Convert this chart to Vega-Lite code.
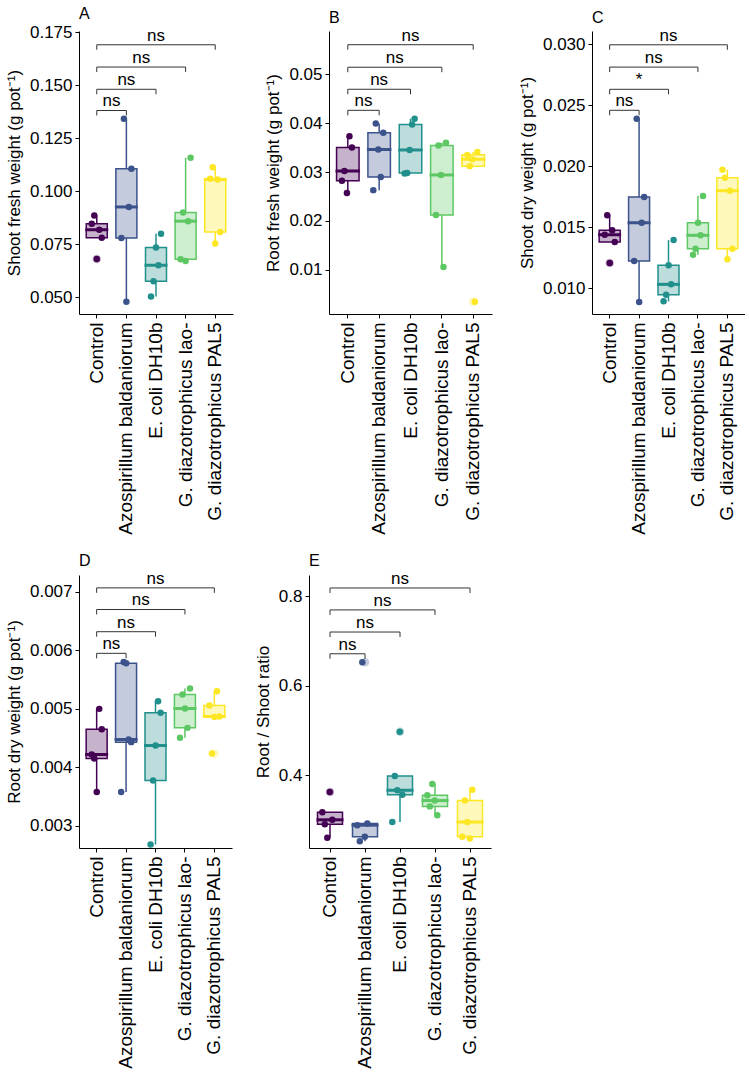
{
  "$schema": "https://vega.github.io/schema/vega-lite/v6.json",
  "padding": {"left": 5, "top": 6, "right": 0, "bottom": 0},
  "background": "white",
  "datasets": {
    "obs": [
      {"panel":"A","group":"Control","rep":1,"value":0.0846},
      {"panel":"A","group":"Control","rep":2,"value":0.0885},
      {"panel":"A","group":"Control","rep":3,"value":0.0679},
      {"panel":"A","group":"Control","rep":4,"value":0.0817},
      {"panel":"A","group":"Control","rep":5,"value":0.0780},
      {"panel":"A","group":"Azospirillum baldaniorum","rep":1,"value":0.0778},
      {"panel":"A","group":"Azospirillum baldaniorum","rep":2,"value":0.1341},
      {"panel":"A","group":"Azospirillum baldaniorum","rep":3,"value":0.0478},
      {"panel":"A","group":"Azospirillum baldaniorum","rep":4,"value":0.0925},
      {"panel":"A","group":"Azospirillum baldaniorum","rep":5,"value":0.1105},
      {"panel":"A","group":"E. coli DH10b","rep":1,"value":0.0503},
      {"panel":"A","group":"E. coli DH10b","rep":2,"value":0.0574},
      {"panel":"A","group":"E. coli DH10b","rep":3,"value":0.0734},
      {"panel":"A","group":"E. coli DH10b","rep":4,"value":0.0650},
      {"panel":"A","group":"E. coli DH10b","rep":5,"value":0.0799},
      {"panel":"A","group":"G. diazotrophicus lao-","rep":1,"value":0.0678},
      {"panel":"A","group":"G. diazotrophicus lao-","rep":2,"value":0.0899},
      {"panel":"A","group":"G. diazotrophicus lao-","rep":3,"value":0.0670},
      {"panel":"A","group":"G. diazotrophicus lao-","rep":4,"value":0.0858},
      {"panel":"A","group":"G. diazotrophicus lao-","rep":5,"value":0.1157},
      {"panel":"A","group":"G. diazotrophicus PAL5","rep":1,"value":0.1058},
      {"panel":"A","group":"G. diazotrophicus PAL5","rep":2,"value":0.1112},
      {"panel":"A","group":"G. diazotrophicus PAL5","rep":3,"value":0.0753},
      {"panel":"A","group":"G. diazotrophicus PAL5","rep":4,"value":0.1055},
      {"panel":"A","group":"G. diazotrophicus PAL5","rep":5,"value":0.0807},

      {"panel":"B","group":"Control","rep":1,"value":0.0282},
      {"panel":"B","group":"Control","rep":2,"value":0.0302},
      {"panel":"B","group":"Control","rep":3,"value":0.0257},
      {"panel":"B","group":"Control","rep":4,"value":0.0373},
      {"panel":"B","group":"Control","rep":5,"value":0.0350},
      {"panel":"B","group":"Azospirillum baldaniorum","rep":1,"value":0.0263},
      {"panel":"B","group":"Azospirillum baldaniorum","rep":2,"value":0.0399},
      {"panel":"B","group":"Azospirillum baldaniorum","rep":3,"value":0.0346},
      {"panel":"B","group":"Azospirillum baldaniorum","rep":4,"value":0.0290},
      {"panel":"B","group":"Azospirillum baldaniorum","rep":5,"value":0.0380},
      {"panel":"B","group":"E. coli DH10b","rep":1,"value":0.0297},
      {"panel":"B","group":"E. coli DH10b","rep":2,"value":0.0298},
      {"panel":"B","group":"E. coli DH10b","rep":3,"value":0.0345},
      {"panel":"B","group":"E. coli DH10b","rep":4,"value":0.0397},
      {"panel":"B","group":"E. coli DH10b","rep":5,"value":0.0409},
      {"panel":"B","group":"G. diazotrophicus lao-","rep":1,"value":0.0212},
      {"panel":"B","group":"G. diazotrophicus lao-","rep":2,"value":0.0354},
      {"panel":"B","group":"G. diazotrophicus lao-","rep":3,"value":0.0294},
      {"panel":"B","group":"G. diazotrophicus lao-","rep":4,"value":0.0106},
      {"panel":"B","group":"G. diazotrophicus lao-","rep":5,"value":0.0360},
      {"panel":"B","group":"G. diazotrophicus PAL5","rep":1,"value":0.0335},
      {"panel":"B","group":"G. diazotrophicus PAL5","rep":2,"value":0.0312},
      {"panel":"B","group":"G. diazotrophicus PAL5","rep":3,"value":0.0326},
      {"panel":"B","group":"G. diazotrophicus PAL5","rep":4,"value":0.0035},
      {"panel":"B","group":"G. diazotrophicus PAL5","rep":5,"value":0.0341},

      {"panel":"C","group":"Control","rep":1,"value":0.01437},
      {"panel":"C","group":"Control","rep":2,"value":0.01596},
      {"panel":"C","group":"Control","rep":3,"value":0.01205},
      {"panel":"C","group":"Control","rep":4,"value":0.01473},
      {"panel":"C","group":"Control","rep":5,"value":0.01377},
      {"panel":"C","group":"Azospirillum baldaniorum","rep":1,"value":0.01221},
      {"panel":"C","group":"Azospirillum baldaniorum","rep":2,"value":0.02388},
      {"panel":"C","group":"Azospirillum baldaniorum","rep":3,"value":0.00885},
      {"panel":"C","group":"Azospirillum baldaniorum","rep":4,"value":0.01535},
      {"panel":"C","group":"Azospirillum baldaniorum","rep":5,"value":0.01746},
      {"panel":"C","group":"E. coli DH10b","rep":1,"value":0.00891},
      {"panel":"C","group":"E. coli DH10b","rep":2,"value":0.00945},
      {"panel":"C","group":"E. coli DH10b","rep":3,"value":0.01186},
      {"panel":"C","group":"E. coli DH10b","rep":4,"value":0.01030},
      {"panel":"C","group":"E. coli DH10b","rep":5,"value":0.01393},
      {"panel":"C","group":"G. diazotrophicus lao-","rep":1,"value":0.01273},
      {"panel":"C","group":"G. diazotrophicus lao-","rep":2,"value":0.01322},
      {"panel":"C","group":"G. diazotrophicus lao-","rep":3,"value":0.01535},
      {"panel":"C","group":"G. diazotrophicus lao-","rep":4,"value":0.01432},
      {"panel":"C","group":"G. diazotrophicus lao-","rep":5,"value":0.01754},
      {"panel":"C","group":"G. diazotrophicus PAL5","rep":1,"value":0.01970},
      {"panel":"C","group":"G. diazotrophicus PAL5","rep":2,"value":0.01904},
      {"panel":"C","group":"G. diazotrophicus PAL5","rep":3,"value":0.01235},
      {"panel":"C","group":"G. diazotrophicus PAL5","rep":4,"value":0.01798},
      {"panel":"C","group":"G. diazotrophicus PAL5","rep":5,"value":0.01322},

      {"panel":"D","group":"Control","rep":1,"value":0.00422},
      {"panel":"D","group":"Control","rep":2,"value":0.00415},
      {"panel":"D","group":"Control","rep":3,"value":0.003576},
      {"panel":"D","group":"Control","rep":4,"value":0.00500},
      {"panel":"D","group":"Control","rep":5,"value":0.00465},
      {"panel":"D","group":"Azospirillum baldaniorum","rep":1,"value":0.003576},
      {"panel":"D","group":"Azospirillum baldaniorum","rep":2,"value":0.00580},
      {"panel":"D","group":"Azospirillum baldaniorum","rep":3,"value":0.00578},
      {"panel":"D","group":"Azospirillum baldaniorum","rep":4,"value":0.004476},
      {"panel":"D","group":"Azospirillum baldaniorum","rep":5,"value":0.004431},
      {"panel":"D","group":"E. coli DH10b","rep":1,"value":0.00268},
      {"panel":"D","group":"E. coli DH10b","rep":2,"value":0.003775},
      {"panel":"D","group":"E. coli DH10b","rep":3,"value":0.004373},
      {"panel":"D","group":"E. coli DH10b","rep":4,"value":0.005132},
      {"panel":"D","group":"E. coli DH10b","rep":5,"value":0.004932},
      {"panel":"D","group":"G. diazotrophicus lao-","rep":1,"value":0.004504},
      {"panel":"D","group":"G. diazotrophicus lao-","rep":2,"value":0.005244},
      {"panel":"D","group":"G. diazotrophicus lao-","rep":3,"value":0.005006},
      {"panel":"D","group":"G. diazotrophicus lao-","rep":4,"value":0.004675},
      {"panel":"D","group":"G. diazotrophicus lao-","rep":5,"value":0.005347},
      {"panel":"D","group":"G. diazotrophicus PAL5","rep":1,"value":0.005056},
      {"panel":"D","group":"G. diazotrophicus PAL5","rep":2,"value":0.004236},
      {"panel":"D","group":"G. diazotrophicus PAL5","rep":3,"value":0.004863},
      {"panel":"D","group":"G. diazotrophicus PAL5","rep":4,"value":0.00530},
      {"panel":"D","group":"G. diazotrophicus PAL5","rep":5,"value":0.00487},

      {"panel":"E","group":"Control","rep":1,"value":0.317},
      {"panel":"E","group":"Control","rep":2,"value":0.290},
      {"panel":"E","group":"Control","rep":3,"value":0.260},
      {"panel":"E","group":"Control","rep":4,"value":0.362},
      {"panel":"E","group":"Control","rep":5,"value":0.300},
      {"panel":"E","group":"Azospirillum baldaniorum","rep":1,"value":0.288},
      {"panel":"E","group":"Azospirillum baldaniorum","rep":2,"value":0.252},
      {"panel":"E","group":"Azospirillum baldaniorum","rep":3,"value":0.652},
      {"panel":"E","group":"Azospirillum baldaniorum","rep":4,"value":0.262},
      {"panel":"E","group":"Azospirillum baldaniorum","rep":5,"value":0.292},
      {"panel":"E","group":"E. coli DH10b","rep":1,"value":0.295},
      {"panel":"E","group":"E. coli DH10b","rep":2,"value":0.398},
      {"panel":"E","group":"E. coli DH10b","rep":3,"value":0.366},
      {"panel":"E","group":"E. coli DH10b","rep":4,"value":0.497},
      {"panel":"E","group":"E. coli DH10b","rep":5,"value":0.356},
      {"panel":"E","group":"G. diazotrophicus lao-","rep":1,"value":0.355},
      {"panel":"E","group":"G. diazotrophicus lao-","rep":2,"value":0.330},
      {"panel":"E","group":"G. diazotrophicus lao-","rep":3,"value":0.380},
      {"panel":"E","group":"G. diazotrophicus lao-","rep":4,"value":0.343},
      {"panel":"E","group":"G. diazotrophicus lao-","rep":5,"value":0.310},
      {"panel":"E","group":"G. diazotrophicus PAL5","rep":1,"value":0.262},
      {"panel":"E","group":"G. diazotrophicus PAL5","rep":2,"value":0.343},
      {"panel":"E","group":"G. diazotrophicus PAL5","rep":3,"value":0.295},
      {"panel":"E","group":"G. diazotrophicus PAL5","rep":4,"value":0.258},
      {"panel":"E","group":"G. diazotrophicus PAL5","rep":5,"value":0.367}
    ],
    "br": [
      {"panel":"A","group":"Azospirillum baldaniorum","value":0.138,"label":"ns"},
      {"panel":"A","group":"E. coli DH10b","value":0.148,"label":"ns"},
      {"panel":"A","group":"G. diazotrophicus lao-","value":0.1585,"label":"ns"},
      {"panel":"A","group":"G. diazotrophicus PAL5","value":0.169,"label":"ns"},
      {"panel":"B","group":"Azospirillum baldaniorum","value":0.0426,"label":"ns"},
      {"panel":"B","group":"E. coli DH10b","value":0.0469,"label":"ns"},
      {"panel":"B","group":"G. diazotrophicus lao-","value":0.0514,"label":"ns"},
      {"panel":"B","group":"G. diazotrophicus PAL5","value":0.056,"label":"ns"},
      {"panel":"C","group":"Azospirillum baldaniorum","value":0.02457,"label":"ns"},
      {"panel":"C","group":"E. coli DH10b","value":0.02629,"label":"*"},
      {"panel":"C","group":"G. diazotrophicus lao-","value":0.02811,"label":"ns"},
      {"panel":"C","group":"G. diazotrophicus PAL5","value":0.02994,"label":"ns"},
      {"panel":"D","group":"Azospirillum baldaniorum","value":0.00595,"label":"ns"},
      {"panel":"D","group":"E. coli DH10b","value":0.00632,"label":"ns"},
      {"panel":"D","group":"G. diazotrophicus lao-","value":0.0067,"label":"ns"},
      {"panel":"D","group":"G. diazotrophicus PAL5","value":0.00707,"label":"ns"},
      {"panel":"E","group":"Azospirillum baldaniorum","value":0.671,"label":"ns"},
      {"panel":"E","group":"E. coli DH10b","value":0.7196,"label":"ns"},
      {"panel":"E","group":"G. diazotrophicus lao-","value":0.769,"label":"ns"},
      {"panel":"E","group":"G. diazotrophicus PAL5","value":0.818,"label":"ns"}
    ]
  },
  "vconcat": [
    {
      "spacing": 31,
      "hconcat": [
        {
          "width": 154, "height": 283,
          "title": {"text": "A"},
          "encoding": {
            "x": {"field": "group", "type": "nominal", "title": null, "scale": {"domain": ["Control","Azospirillum baldaniorum","E. coli DH10b","G. diazotrophicus lao-","G. diazotrophicus PAL5"], "paddingInner": 0, "paddingOuter": 0.1}},
            "y": {"field": "value", "type": "quantitative", "scale": {"domain": [0.042, 0.1755], "nice": false, "zero": false}, "axis": {"values": [0.05,0.075,0.1,0.125,0.15,0.175], "format": ".3f"}, "title": "Shoot fresh weight (g pot⁻¹)"}
          },
          "layer": [
            {"data": {"name": "obs"}, "transform": [{"filter": "datum.panel == 'A'"}],
             "mark": {"type": "boxplot", "extent": 1.5, "size": 21, "box": {"fillOpacity": 0.3, "strokeWidth": 1.5}, "median": {"fillOpacity": 0, "strokeWidth": 2}, "rule": {"strokeWidth": 1.5}, "outliers": {"opacity": 0.3, "size": 42, "filled": true}, "ticks": false},
             "encoding": {
               "color": {"field": "group", "type": "nominal", "scale": {"domain": ["Control","Azospirillum baldaniorum","E. coli DH10b","G. diazotrophicus lao-","G. diazotrophicus PAL5"], "range": ["#440154","#3B528B","#21908C","#5DC863","#FDE725"]}, "legend": null},
               "stroke": {"field": "group", "type": "nominal", "scale": {"domain": ["Control","Azospirillum baldaniorum","E. coli DH10b","G. diazotrophicus lao-","G. diazotrophicus PAL5"], "range": ["#440154","#3B528B","#21908C","#5DC863","#FDE725"]}, "legend": null}
             }},
            {"data": {"name": "obs"}, "transform": [{"filter": "datum.panel == 'A'"}],
             "mark": {"type": "circle", "size": 42, "opacity": 1},
             "encoding": {
               "color": {"field": "group", "type": "nominal", "legend": null},
               "xOffset": {"field": "rep", "type": "nominal", "scale": {"type": "band", "paddingInner": 0, "paddingOuter": 0, "range": [8.56, 21.06]}}
             }},
            {"data": {"name": "br"}, "transform": [{"filter": "datum.panel == 'A'"}],
             "mark": {"type": "rule", "color": "#333333", "strokeWidth": 1},
             "encoding": {"x": {"datum": "Control", "title": null}, "x2": {"field": "group"}}},
            {"data": {"name": "br"}, "transform": [{"filter": "datum.panel == 'A'"}],
             "mark": {"type": "rule", "color": "#333333", "strokeWidth": 1, "y2Offset": 5},
             "encoding": {"x": {"datum": "Control", "title": null}, "y2": {"field": "value"}}},
            {"data": {"name": "br"}, "transform": [{"filter": "datum.panel == 'A'"}],
             "mark": {"type": "rule", "color": "#333333", "strokeWidth": 1, "y2Offset": 5},
             "encoding": {"y2": {"field": "value"}}},
            {"data": {"name": "br"}, "transform": [{"filter": "datum.panel == 'A' && datum.group == 'Azospirillum baldaniorum'"}],
             "mark": {"type": "text", "baseline": "alphabetic", "dy": -4, "fontSize": 17},
             "encoding": {"x": {"datum": "Control", "bandPosition": 1, "title": null}, "text": {"field": "label"}}},
            {"data": {"name": "br"}, "transform": [{"filter": "datum.panel == 'A' && datum.group == 'E. coli DH10b'"}],
             "mark": {"type": "text", "baseline": "alphabetic", "dy": -4, "fontSize": 17},
             "encoding": {"x": {"datum": "Azospirillum baldaniorum", "bandPosition": 0.5, "title": null}, "text": {"field": "label"}}},
            {"data": {"name": "br"}, "transform": [{"filter": "datum.panel == 'A' && datum.group == 'G. diazotrophicus lao-'"}],
             "mark": {"type": "text", "baseline": "alphabetic", "dy": -4, "fontSize": 17},
             "encoding": {"x": {"datum": "E. coli DH10b", "bandPosition": 0, "title": null}, "text": {"field": "label"}}},
            {"data": {"name": "br"}, "transform": [{"filter": "datum.panel == 'A' && datum.group == 'G. diazotrophicus PAL5'"}],
             "mark": {"type": "text", "baseline": "alphabetic", "dy": -4, "fontSize": 17},
             "encoding": {"x": {"datum": "E. coli DH10b", "bandPosition": 0.5, "title": null}, "text": {"field": "label"}}}
          ]
        },
        {
          "spacing": 26,
          "hconcat": [
            {
              "width": 163, "height": 283,
              "title": {"text": "B"},
              "encoding": {
                "x": {"field": "group", "type": "nominal", "title": null, "scale": {"domain": ["Control","Azospirillum baldaniorum","E. coli DH10b","G. diazotrophicus lao-","G. diazotrophicus PAL5"], "paddingInner": 0, "paddingOuter": 0.1}},
                "y": {"field": "value", "type": "quantitative", "scale": {"domain": [0.001, 0.0588], "nice": false, "zero": false}, "axis": {"values": [0.01,0.02,0.03,0.04,0.05], "format": ".2f"}, "title": "Root fresh weight (g pot⁻¹)"}
              },
              "layer": [
                {"data": {"name": "obs"}, "transform": [{"filter": "datum.panel == 'B'"}],
                 "mark": {"type": "boxplot", "extent": 1.5, "size": 22.5, "box": {"fillOpacity": 0.3, "strokeWidth": 1.5}, "median": {"fillOpacity": 0, "strokeWidth": 2}, "rule": {"strokeWidth": 1.5}, "outliers": {"opacity": 0.3, "size": 42, "filled": true}, "ticks": false},
                 "encoding": {
                   "color": {"field": "group", "type": "nominal", "scale": {"domain": ["Control","Azospirillum baldaniorum","E. coli DH10b","G. diazotrophicus lao-","G. diazotrophicus PAL5"], "range": ["#440154","#3B528B","#21908C","#5DC863","#FDE725"]}, "legend": null},
                   "stroke": {"field": "group", "type": "nominal", "scale": {"domain": ["Control","Azospirillum baldaniorum","E. coli DH10b","G. diazotrophicus lao-","G. diazotrophicus PAL5"], "range": ["#440154","#3B528B","#21908C","#5DC863","#FDE725"]}, "legend": null}
                 }},
                {"data": {"name": "obs"}, "transform": [{"filter": "datum.panel == 'B'"}],
                 "mark": {"type": "circle", "size": 42, "opacity": 1},
                 "encoding": {
                   "color": {"field": "group", "type": "nominal", "legend": null},
                   "xOffset": {"field": "rep", "type": "nominal", "scale": {"type": "band", "paddingInner": 0, "paddingOuter": 0, "range": [9.42, 21.92]}}
                 }},
                {"data": {"name": "br"}, "transform": [{"filter": "datum.panel == 'B'"}],
                 "mark": {"type": "rule", "color": "#333333", "strokeWidth": 1},
                 "encoding": {"x": {"datum": "Control", "title": null}, "x2": {"field": "group"}}},
                {"data": {"name": "br"}, "transform": [{"filter": "datum.panel == 'B'"}],
                 "mark": {"type": "rule", "color": "#333333", "strokeWidth": 1, "y2Offset": 5},
                 "encoding": {"x": {"datum": "Control", "title": null}, "y2": {"field": "value"}}},
                {"data": {"name": "br"}, "transform": [{"filter": "datum.panel == 'B'"}],
                 "mark": {"type": "rule", "color": "#333333", "strokeWidth": 1, "y2Offset": 5},
                 "encoding": {"y2": {"field": "value"}}},
                {"data": {"name": "br"}, "transform": [{"filter": "datum.panel == 'B' && datum.group == 'Azospirillum baldaniorum'"}],
                 "mark": {"type": "text", "baseline": "alphabetic", "dy": -4, "fontSize": 17},
                 "encoding": {"x": {"datum": "Control", "bandPosition": 1, "title": null}, "text": {"field": "label"}}},
                {"data": {"name": "br"}, "transform": [{"filter": "datum.panel == 'B' && datum.group == 'E. coli DH10b'"}],
                 "mark": {"type": "text", "baseline": "alphabetic", "dy": -4, "fontSize": 17},
                 "encoding": {"x": {"datum": "Azospirillum baldaniorum", "bandPosition": 0.5, "title": null}, "text": {"field": "label"}}},
                {"data": {"name": "br"}, "transform": [{"filter": "datum.panel == 'B' && datum.group == 'G. diazotrophicus lao-'"}],
                 "mark": {"type": "text", "baseline": "alphabetic", "dy": -4, "fontSize": 17},
                 "encoding": {"x": {"datum": "E. coli DH10b", "bandPosition": 0, "title": null}, "text": {"field": "label"}}},
                {"data": {"name": "br"}, "transform": [{"filter": "datum.panel == 'B' && datum.group == 'G. diazotrophicus PAL5'"}],
                 "mark": {"type": "text", "baseline": "alphabetic", "dy": -4, "fontSize": 17},
                 "encoding": {"x": {"datum": "E. coli DH10b", "bandPosition": 0.5, "title": null}, "text": {"field": "label"}}}
              ]
            },
            {
              "width": 153, "height": 283,
              "title": {"text": "C"},
              "encoding": {
                "x": {"field": "group", "type": "nominal", "title": null, "scale": {"domain": ["Control","Azospirillum baldaniorum","E. coli DH10b","G. diazotrophicus lao-","G. diazotrophicus PAL5"], "paddingInner": 0, "paddingOuter": 0.1}},
                "y": {"field": "value", "type": "quantitative", "scale": {"domain": [0.00787, 0.03107], "nice": false, "zero": false}, "axis": {"values": [0.01,0.015,0.02,0.025,0.03], "format": ".3f"}, "title": "Shoot dry weight (g pot⁻¹)"}
              },
              "layer": [
                {"data": {"name": "obs"}, "transform": [{"filter": "datum.panel == 'C'"}],
                 "mark": {"type": "boxplot", "extent": 1.5, "size": 21, "box": {"fillOpacity": 0.3, "strokeWidth": 1.5}, "median": {"fillOpacity": 0, "strokeWidth": 2}, "rule": {"strokeWidth": 1.5}, "outliers": {"opacity": 0.3, "size": 42, "filled": true}, "ticks": false},
                 "encoding": {
                   "color": {"field": "group", "type": "nominal", "scale": {"domain": ["Control","Azospirillum baldaniorum","E. coli DH10b","G. diazotrophicus lao-","G. diazotrophicus PAL5"], "range": ["#440154","#3B528B","#21908C","#5DC863","#FDE725"]}, "legend": null},
                   "stroke": {"field": "group", "type": "nominal", "scale": {"domain": ["Control","Azospirillum baldaniorum","E. coli DH10b","G. diazotrophicus lao-","G. diazotrophicus PAL5"], "range": ["#440154","#3B528B","#21908C","#5DC863","#FDE725"]}, "legend": null}
                 }},
                {"data": {"name": "obs"}, "transform": [{"filter": "datum.panel == 'C'"}],
                 "mark": {"type": "circle", "size": 42, "opacity": 1},
                 "encoding": {
                   "color": {"field": "group", "type": "nominal", "legend": null},
                   "xOffset": {"field": "rep", "type": "nominal", "scale": {"type": "band", "paddingInner": 0, "paddingOuter": 0, "range": [8.46, 20.96]}}
                 }},
                {"data": {"name": "br"}, "transform": [{"filter": "datum.panel == 'C'"}],
                 "mark": {"type": "rule", "color": "#333333", "strokeWidth": 1},
                 "encoding": {"x": {"datum": "Control", "title": null}, "x2": {"field": "group"}}},
                {"data": {"name": "br"}, "transform": [{"filter": "datum.panel == 'C'"}],
                 "mark": {"type": "rule", "color": "#333333", "strokeWidth": 1, "y2Offset": 5},
                 "encoding": {"x": {"datum": "Control", "title": null}, "y2": {"field": "value"}}},
                {"data": {"name": "br"}, "transform": [{"filter": "datum.panel == 'C'"}],
                 "mark": {"type": "rule", "color": "#333333", "strokeWidth": 1, "y2Offset": 5},
                 "encoding": {"y2": {"field": "value"}}},
                {"data": {"name": "br"}, "transform": [{"filter": "datum.panel == 'C' && datum.group == 'Azospirillum baldaniorum'"}],
                 "mark": {"type": "text", "baseline": "alphabetic", "dy": -4, "fontSize": 17},
                 "encoding": {"x": {"datum": "Control", "bandPosition": 1, "title": null}, "text": {"field": "label"}}},
                {"data": {"name": "br"}, "transform": [{"filter": "datum.panel == 'C' && datum.group == 'E. coli DH10b'"}],
                 "mark": {"type": "text", "baseline": "alphabetic", "dy": -4, "fontSize": 17},
                 "encoding": {"x": {"datum": "Azospirillum baldaniorum", "bandPosition": 0.5, "title": null}, "text": {"field": "label"}}},
                {"data": {"name": "br"}, "transform": [{"filter": "datum.panel == 'C' && datum.group == 'G. diazotrophicus lao-'"}],
                 "mark": {"type": "text", "baseline": "alphabetic", "dy": -4, "fontSize": 17},
                 "encoding": {"x": {"datum": "E. coli DH10b", "bandPosition": 0, "title": null}, "text": {"field": "label"}}},
                {"data": {"name": "br"}, "transform": [{"filter": "datum.panel == 'C' && datum.group == 'G. diazotrophicus PAL5'"}],
                 "mark": {"type": "text", "baseline": "alphabetic", "dy": -4, "fontSize": 17},
                 "encoding": {"x": {"datum": "E. coli DH10b", "bandPosition": 0.5, "title": null}, "text": {"field": "label"}}}
              ]
            }
          ]
        }
      ]
    },
    {
      "spacing": 22,
      "hconcat": [
        {
          "width": 153, "height": 273,
          "title": {"text": "D"},
          "encoding": {
            "x": {"field": "group", "type": "nominal", "title": null, "scale": {"domain": ["Control","Azospirillum baldaniorum","E. coli DH10b","G. diazotrophicus lao-","G. diazotrophicus PAL5"], "paddingInner": 0, "paddingOuter": 0.1}},
            "y": {"field": "value", "type": "quantitative", "scale": {"domain": [0.00262, 0.00729], "nice": false, "zero": false}, "axis": {"values": [0.003,0.004,0.005,0.006,0.007], "format": ".3f"}, "title": "Root dry weight (g pot⁻¹)"}
          },
          "layer": [
            {"data": {"name": "obs"}, "transform": [{"filter": "datum.panel == 'D'"}],
             "mark": {"type": "boxplot", "extent": 1.5, "size": 21, "box": {"fillOpacity": 0.3, "strokeWidth": 1.5}, "median": {"fillOpacity": 0, "strokeWidth": 2}, "rule": {"strokeWidth": 1.5}, "outliers": {"opacity": 0.3, "size": 42, "filled": true}, "ticks": false},
             "encoding": {
               "color": {"field": "group", "type": "nominal", "scale": {"domain": ["Control","Azospirillum baldaniorum","E. coli DH10b","G. diazotrophicus lao-","G. diazotrophicus PAL5"], "range": ["#440154","#3B528B","#21908C","#5DC863","#FDE725"]}, "legend": null},
               "stroke": {"field": "group", "type": "nominal", "scale": {"domain": ["Control","Azospirillum baldaniorum","E. coli DH10b","G. diazotrophicus lao-","G. diazotrophicus PAL5"], "range": ["#440154","#3B528B","#21908C","#5DC863","#FDE725"]}, "legend": null}
             }},
            {"data": {"name": "obs"}, "transform": [{"filter": "datum.panel == 'D'"}],
             "mark": {"type": "circle", "size": 42, "opacity": 1},
             "encoding": {
               "color": {"field": "group", "type": "nominal", "legend": null},
               "xOffset": {"field": "rep", "type": "nominal", "scale": {"type": "band", "paddingInner": 0, "paddingOuter": 0, "range": [8.46, 20.96]}}
             }},
            {"data": {"name": "br"}, "transform": [{"filter": "datum.panel == 'D'"}],
             "mark": {"type": "rule", "color": "#333333", "strokeWidth": 1},
             "encoding": {"x": {"datum": "Control", "title": null}, "x2": {"field": "group"}}},
            {"data": {"name": "br"}, "transform": [{"filter": "datum.panel == 'D'"}],
             "mark": {"type": "rule", "color": "#333333", "strokeWidth": 1, "y2Offset": 5},
             "encoding": {"x": {"datum": "Control", "title": null}, "y2": {"field": "value"}}},
            {"data": {"name": "br"}, "transform": [{"filter": "datum.panel == 'D'"}],
             "mark": {"type": "rule", "color": "#333333", "strokeWidth": 1, "y2Offset": 5},
             "encoding": {"y2": {"field": "value"}}},
            {"data": {"name": "br"}, "transform": [{"filter": "datum.panel == 'D' && datum.group == 'Azospirillum baldaniorum'"}],
             "mark": {"type": "text", "baseline": "alphabetic", "dy": -4, "fontSize": 17},
             "encoding": {"x": {"datum": "Control", "bandPosition": 1, "title": null}, "text": {"field": "label"}}},
            {"data": {"name": "br"}, "transform": [{"filter": "datum.panel == 'D' && datum.group == 'E. coli DH10b'"}],
             "mark": {"type": "text", "baseline": "alphabetic", "dy": -4, "fontSize": 17},
             "encoding": {"x": {"datum": "Azospirillum baldaniorum", "bandPosition": 0.5, "title": null}, "text": {"field": "label"}}},
            {"data": {"name": "br"}, "transform": [{"filter": "datum.panel == 'D' && datum.group == 'G. diazotrophicus lao-'"}],
             "mark": {"type": "text", "baseline": "alphabetic", "dy": -4, "fontSize": 17},
             "encoding": {"x": {"datum": "E. coli DH10b", "bandPosition": 0, "title": null}, "text": {"field": "label"}}},
            {"data": {"name": "br"}, "transform": [{"filter": "datum.panel == 'D' && datum.group == 'G. diazotrophicus PAL5'"}],
             "mark": {"type": "text", "baseline": "alphabetic", "dy": -4, "fontSize": 17},
             "encoding": {"x": {"datum": "E. coli DH10b", "bandPosition": 0.5, "title": null}, "text": {"field": "label"}}}
          ]
        },
        {
          "width": 182, "height": 273,
          "title": {"text": "E"},
          "encoding": {
            "x": {"field": "group", "type": "nominal", "title": null, "scale": {"domain": ["Control","Azospirillum baldaniorum","E. coli DH10b","G. diazotrophicus lao-","G. diazotrophicus PAL5"], "paddingInner": 0, "paddingOuter": 0.1}},
            "y": {"field": "value", "type": "quantitative", "scale": {"domain": [0.237, 0.847], "nice": false, "zero": false}, "axis": {"values": [0.4,0.6,0.8], "format": ".1f"}, "title": "Root / Shoot ratio"}
          },
          "layer": [
            {"data": {"name": "obs"}, "transform": [{"filter": "datum.panel == 'E'"}],
             "mark": {"type": "boxplot", "extent": 1.5, "size": 25, "box": {"fillOpacity": 0.3, "strokeWidth": 1.5}, "median": {"fillOpacity": 0, "strokeWidth": 2}, "rule": {"strokeWidth": 1.5}, "outliers": {"opacity": 0.3, "size": 42, "filled": true}, "ticks": false},
             "encoding": {
               "color": {"field": "group", "type": "nominal", "scale": {"domain": ["Control","Azospirillum baldaniorum","E. coli DH10b","G. diazotrophicus lao-","G. diazotrophicus PAL5"], "range": ["#440154","#3B528B","#21908C","#5DC863","#FDE725"]}, "legend": null},
               "stroke": {"field": "group", "type": "nominal", "scale": {"domain": ["Control","Azospirillum baldaniorum","E. coli DH10b","G. diazotrophicus lao-","G. diazotrophicus PAL5"], "range": ["#440154","#3B528B","#21908C","#5DC863","#FDE725"]}, "legend": null}
             }},
            {"data": {"name": "obs"}, "transform": [{"filter": "datum.panel == 'E'"}],
             "mark": {"type": "circle", "size": 42, "opacity": 1},
             "encoding": {
               "color": {"field": "group", "type": "nominal", "legend": null},
               "xOffset": {"field": "rep", "type": "nominal", "scale": {"type": "band", "paddingInner": 0, "paddingOuter": 0, "range": [11.25, 23.75]}}
             }},
            {"data": {"name": "br"}, "transform": [{"filter": "datum.panel == 'E'"}],
             "mark": {"type": "rule", "color": "#333333", "strokeWidth": 1},
             "encoding": {"x": {"datum": "Control", "title": null}, "x2": {"field": "group"}}},
            {"data": {"name": "br"}, "transform": [{"filter": "datum.panel == 'E'"}],
             "mark": {"type": "rule", "color": "#333333", "strokeWidth": 1, "y2Offset": 5},
             "encoding": {"x": {"datum": "Control", "title": null}, "y2": {"field": "value"}}},
            {"data": {"name": "br"}, "transform": [{"filter": "datum.panel == 'E'"}],
             "mark": {"type": "rule", "color": "#333333", "strokeWidth": 1, "y2Offset": 5},
             "encoding": {"y2": {"field": "value"}}},
            {"data": {"name": "br"}, "transform": [{"filter": "datum.panel == 'E' && datum.group == 'Azospirillum baldaniorum'"}],
             "mark": {"type": "text", "baseline": "alphabetic", "dy": -4, "fontSize": 17},
             "encoding": {"x": {"datum": "Control", "bandPosition": 1, "title": null}, "text": {"field": "label"}}},
            {"data": {"name": "br"}, "transform": [{"filter": "datum.panel == 'E' && datum.group == 'E. coli DH10b'"}],
             "mark": {"type": "text", "baseline": "alphabetic", "dy": -4, "fontSize": 17},
             "encoding": {"x": {"datum": "Azospirillum baldaniorum", "bandPosition": 0.5, "title": null}, "text": {"field": "label"}}},
            {"data": {"name": "br"}, "transform": [{"filter": "datum.panel == 'E' && datum.group == 'G. diazotrophicus lao-'"}],
             "mark": {"type": "text", "baseline": "alphabetic", "dy": -4, "fontSize": 17},
             "encoding": {"x": {"datum": "E. coli DH10b", "bandPosition": 0, "title": null}, "text": {"field": "label"}}},
            {"data": {"name": "br"}, "transform": [{"filter": "datum.panel == 'E' && datum.group == 'G. diazotrophicus PAL5'"}],
             "mark": {"type": "text", "baseline": "alphabetic", "dy": -4, "fontSize": 17},
             "encoding": {"x": {"datum": "E. coli DH10b", "bandPosition": 0.5, "title": null}, "text": {"field": "label"}}}
          ]
        }
      ]
    }
  ],
  "spacing": 17,
  "config": {
    "font": "Liberation Sans",
    "view": {"stroke": null},
    "axis": {"grid": false, "domainColor": "black", "domainWidth": 1, "tickColor": "black", "tickSize": 4, "labelColor": "black", "labelFontSize": 17, "labelFont": "Liberation Sans", "titleFont": "Liberation Sans", "titleFontSize": 17, "titleFontWeight": "normal", "titleColor": "black", "labelPadding": 3, "titlePadding": 6},
    "axisX": {"labelAngle": 270, "labelLimit": 0, "labelPadding": 4, "labelFontSize": 19},
    "title": {"anchor": "start", "frame": "group", "fontSize": 16, "fontWeight": "normal", "offset": 1, "color": "black", "font": "Liberation Sans"},
    "text": {"font": "Liberation Sans", "color": "black"}
  }
}
